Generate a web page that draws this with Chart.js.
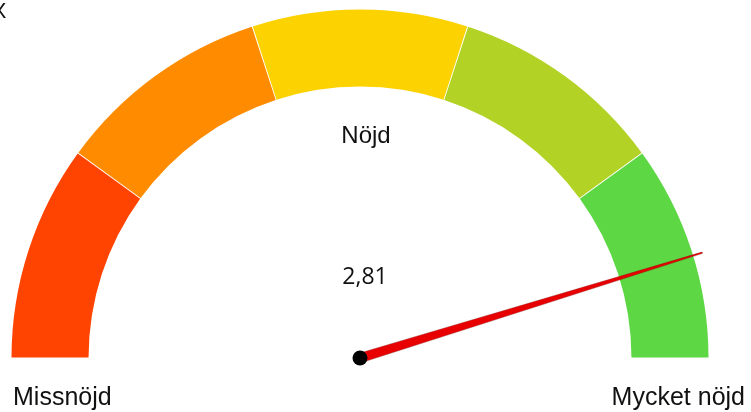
<!DOCTYPE html>
<html>
<head>
<meta charset="utf-8">
<script src="https://cdn.jsdelivr.net/npm/chart.js@4.4.1/dist/chart.umd.min.js"></script>
<style>
  html, body { margin: 0; padding: 0; background: #fff; }
  #gauge { display: block; }
</style>
</head>
<body>
<canvas id="gauge" width="751" height="412"></canvas>
<script>
// Satisfaction gauge: five equal bands from 1 (Missnöjd) to 3 (Mycket nöjd)
const bandLabels = ['Missnöjd', '', 'Nöjd', '', 'Mycket nöjd'];
const bandSizes = [0.4, 0.4, 0.4, 0.4, 0.4];
const bandColors = ['#FF4300', '#FF8C00', '#FCD200', '#B2D326', '#5DD744'];
const scaleMin = 1;
const scaleMax = 3;
const score = 2.81;
const scoreText = '2,81';

// needle, hub and text drawn on top of the half doughnut
const gaugeOverlay = {
    id: 'gaugeOverlay',
    afterDatasetsDraw(chart) {
        const ctx = chart.ctx;
        const arcs = chart.getDatasetMeta(0).data;
        const first = arcs[0];
        const last = arcs[arcs.length - 1];
        const cx = first.x, cy = first.y;
        const outer = first.outerRadius;
        const start = first.startAngle;
        const span = last.endAngle - start;
        const frac = (score - scaleMin) / (scaleMax - scaleMin);
        const angle = start + frac * span;
        const len = outer * 1.032;

        // tapered needle
        ctx.save();
        ctx.translate(cx, cy);
        ctx.rotate(angle);
        ctx.beginPath();
        ctx.moveTo(0, -4.8);
        ctx.lineTo(len, -0.7);
        ctx.lineTo(len, 0.7);
        ctx.lineTo(0, 4.8);
        ctx.closePath();
        ctx.fillStyle = '#E80000';
        ctx.fill();
        ctx.lineWidth = 0.6;
        ctx.strokeStyle = 'rgba(140,0,0,0.6)';
        ctx.stroke();
        ctx.restore();

        // hub
        ctx.beginPath();
        ctx.arc(cx, cy, 7.5, 0, Math.PI * 2);
        ctx.fillStyle = '#000';
        ctx.fill();

        // texts
        ctx.fillStyle = '#111';
        ctx.textBaseline = 'alphabetic';
        ctx.font = '24px "Liberation Sans", Arial, sans-serif';
        ctx.textAlign = 'center';
        ctx.fillText(bandLabels[2], cx + 6, 143);

        ctx.font = '25px "Liberation Sans", Arial, sans-serif';
        ctx.textAlign = 'left';
        ctx.fillText(bandLabels[0], cx - outer, 405);
        ctx.textAlign = 'right';
        ctx.fillText(bandLabels[4], 745, 405);

        ctx.font = '23px "Open Sans", sans-serif';
        ctx.textAlign = 'center';
        ctx.fillText(scoreText, cx + 5, 284);

        // corner close mark, mostly off the canvas
        ctx.font = '22px "Liberation Sans", Arial, sans-serif';
        ctx.fillText('X', -1, 18);
    }
};

new Chart(document.getElementById('gauge'), {
    type: 'doughnut',
    data: {
        labels: bandLabels,
        datasets: [{
            data: bandSizes,
            backgroundColor: bandColors,
            borderWidth: 0,
            spacing: 3
        }]
    },
    options: {
        responsive: false,
        devicePixelRatio: 1,
        animation: false,
        rotation: -90,
        circumference: 180,
        radius: 347,
        cutout: '77.8%',
        layout: { padding: { left: 0, right: 31, top: 0, bottom: 43 } },
        plugins: {
            legend: { display: false },
            tooltip: { enabled: false }
        }
    },
    plugins: [gaugeOverlay]
});
</script>
</body>
</html>
